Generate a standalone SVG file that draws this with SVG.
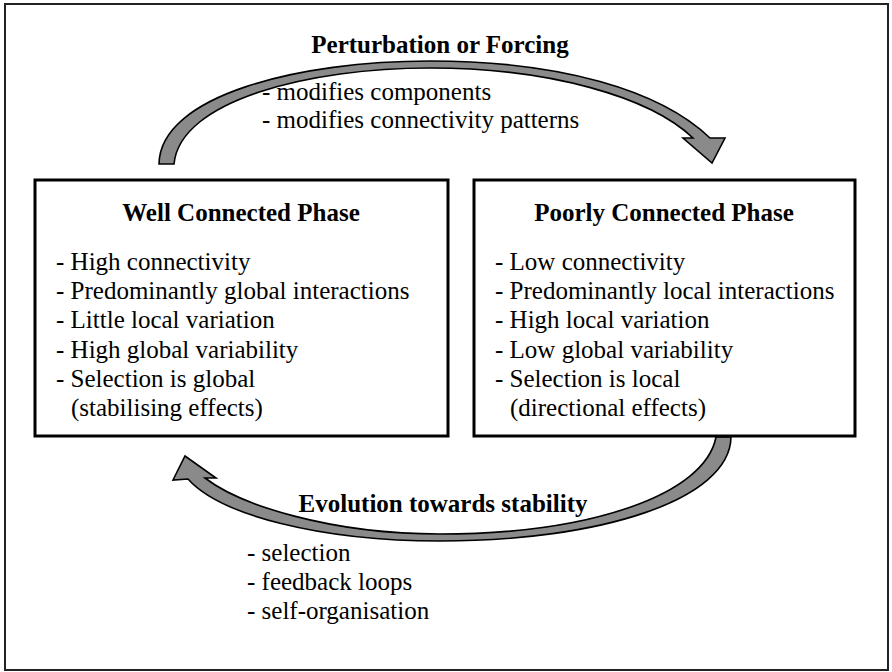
<svg xmlns="http://www.w3.org/2000/svg" width="892" height="672" viewBox="0 0 892 672">
<style>
.t{font-family:"Liberation Serif","Times New Roman",serif;font-size:25px;fill:#000}
.b{font-weight:bold;text-anchor:middle}
.box{fill:#fff;stroke:#000;stroke-width:3}
.arr{fill:#8a8a8a;stroke:#000;stroke-width:1.6;stroke-linejoin:miter}
</style>
<rect x="0" y="0" width="892" height="672" fill="#fff"/>
<rect x="5" y="4" width="883" height="666" fill="none" stroke="#222" stroke-width="2"/>
<g id="connectors">
<path class="arr" d="M159,164 C160,95 300,61 430,61 C560,61 660,90 710,138 L725,138 L712,163 L683,138 L693,138 C650,97 550,68 430,68 C310,68 180,100 174,164 Z"/>
<path class="arr" d="M731,437 C730,500 600,541 440,541 C320,541 220,515 188,479 L173,480 L185,456 L216,478 L205,478 C240,505 330,534 440,534 C590,534 705,495 716,437 Z"/>
</g>
<g id="perturbation">
<text class="t b" x="440" y="53">Perturbation or Forcing</text>
<text class="t" x="262" y="100">- modifies components</text>
<text class="t" x="262" y="128">- modifies connectivity patterns</text>
</g>
<g id="well">
<rect class="box" x="35" y="180" width="413" height="256"/>
<text class="t b" x="241" y="221">Well Connected Phase</text>
<text class="t" x="56" y="270">- High connectivity</text>
<text class="t" x="56" y="299">- Predominantly global interactions</text>
<text class="t" x="56" y="328">- Little local variation</text>
<text class="t" x="56" y="358">- High global variability</text>
<text class="t" x="56" y="387">- Selection is global</text>
<text class="t" x="71" y="416">(stabilising effects)</text>
</g>
<g id="poorly">
<rect class="box" x="474" y="180" width="381" height="256"/>
<text class="t b" x="664" y="221">Poorly Connected Phase</text>
<text class="t" x="495" y="270">- Low connectivity</text>
<text class="t" x="495" y="299">- Predominantly local interactions</text>
<text class="t" x="495" y="328">- High local variation</text>
<text class="t" x="495" y="358">- Low global variability</text>
<text class="t" x="495" y="387">- Selection is local</text>
<text class="t" x="510" y="416">(directional effects)</text>
</g>
<g id="evolution">
<text class="t b" x="443" y="512">Evolution towards stability</text>
<text class="t" x="247" y="561">- selection</text>
<text class="t" x="247" y="590">- feedback loops</text>
<text class="t" x="247" y="619">- self-organisation</text>
</g>
</svg>
